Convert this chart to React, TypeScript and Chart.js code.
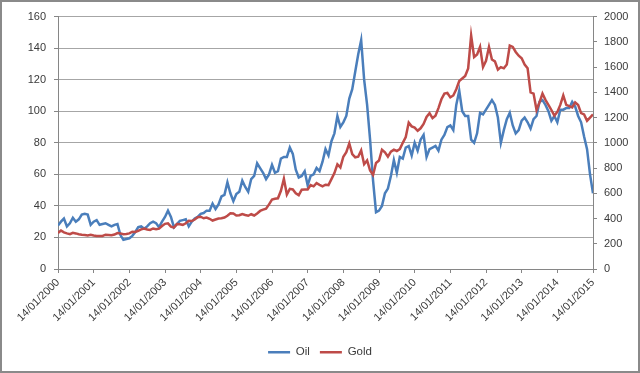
import React, { useEffect, useRef } from "react";
import { Chart, registerables } from "chart.js";

Chart.register(...registerables);

const yearLabels = [
  "14/01/2000", "14/01/2001", "14/01/2002", "14/01/2003", "14/01/2004",
  "14/01/2005", "14/01/2006", "14/01/2007", "14/01/2008", "14/01/2009",
  "14/01/2010", "14/01/2011", "14/01/2012", "14/01/2013", "14/01/2014",
  "14/01/2015",
];

// Monthly samples, Jan 2000 .. Jan 2015 (USD/bbl)
const oil = [
  27.5, 30, 32, 27, 29, 32.5, 30, 31.5, 34.5, 35, 34.5, 28,
  30, 31, 28, 28.5, 29, 28, 27, 28, 28.5, 21.5, 18.5, 19,
  19.5, 21, 23.5, 26.5, 27, 25.5, 27, 29, 30, 29, 26.5, 30,
  33, 37, 33, 26.5, 28.5, 30.5, 31, 31.5, 27, 30, 32, 33,
  35, 35.5, 37, 37, 41.5, 38, 41, 46, 47, 55, 48, 43,
  47.5, 49, 56, 52, 49, 57, 59, 67, 64, 61, 57, 60,
  66, 61, 62, 70, 71, 71, 77, 73, 63, 58, 59, 62,
  53, 59, 60, 64, 62, 68, 76, 72, 81, 86, 97, 90,
  93, 97, 108, 114, 125, 136, 145, 120, 104, 82, 56, 36,
  37, 40, 48, 51, 59, 69, 61, 71, 70, 77, 78, 72,
  80, 75, 82, 85, 71, 76, 77, 78, 75, 82, 85, 90,
  91, 88, 104, 113, 100, 97, 97, 82, 80, 86, 99, 98,
  101, 104, 107, 104, 96, 80, 88, 95, 99, 91, 86, 88,
  94, 96, 93, 89, 95, 97, 106, 107, 104, 100, 94, 97,
  93, 101, 101, 102, 102, 106, 103, 97, 93, 84, 76, 60,
  48,
];

// Monthly samples, Jan 2000 .. Jan 2015 (USD/oz)
const gold = [
  286, 305, 290, 282, 276, 287, 282, 276, 272, 270, 266, 272,
  266, 262, 262, 262, 272, 270, 268, 273, 285, 282, 276, 277,
  282, 295, 294, 303, 314, 321, 313, 310, 321, 316, 320, 340,
  358, 362, 336, 328, 356, 355, 350, 362, 382, 380, 392, 410,
  414, 402, 408, 398, 384, 392, 400, 402, 408, 422, 442, 440,
  424, 426, 436, 428, 422, 434, 424, 440, 460, 470, 478, 512,
  550, 556, 560, 620, 715, 590, 635, 630, 600, 585, 628, 630,
  630, 665, 655, 680, 667, 655, 668, 665, 712, 760, 830, 805,
  890, 925, 995, 910, 885, 890, 940, 830, 860, 780, 745, 840,
  860, 945, 925, 890, 930, 946, 935, 950, 1000, 1045, 1160, 1130,
  1120, 1095, 1115, 1150, 1205, 1235, 1195, 1215, 1275, 1345, 1390, 1395,
  1360, 1375, 1425, 1490, 1510, 1530, 1590, 1850, 1680, 1700, 1760, 1600,
  1650, 1760, 1660, 1645, 1580, 1600, 1590, 1620, 1770, 1760, 1720, 1690,
  1670, 1620, 1590, 1400, 1390, 1260, 1320, 1390, 1340, 1300, 1260, 1215,
  1245, 1300, 1375, 1300, 1290, 1280, 1320, 1300, 1235, 1225, 1175, 1200,
  1225,
];

const seriesNames = ["Oil", "Gold"];
const seriesColors = ["#4A7EBB", "#BE4B48"];

const FONT = "'Liberation Sans', Arial, sans-serif";
const TEXT = "#3a3a3a";
const AXIS = "#868686";
const GRID = "#a6a6a6";

export default function App() {
  const ref = useRef<HTMLCanvasElement | null>(null);

  useEffect(() => {
    document.body.style.margin = "0";
    const canvas = ref.current;
    if (!canvas) return;
    const toPts = (arr: number[]) => arr.map((v, i) => ({ x: i / 12, y: v }));

    const chart = new Chart(canvas, {
      type: "line",
      data: {
        datasets: [
          {
            label: seriesNames[0],
            data: toPts(oil),
            borderColor: seriesColors[0],
            backgroundColor: seriesColors[0],
            borderWidth: 2.5,
            pointRadius: 0,
            yAxisID: "y",
            order: 1,
          },
          {
            label: seriesNames[1],
            data: toPts(gold),
            borderColor: seriesColors[1],
            backgroundColor: seriesColors[1],
            borderWidth: 2.5,
            pointRadius: 0,
            yAxisID: "y1",
            order: 0,
          },
        ],
      },
      options: {
        responsive: false,
        animation: false,
        events: [],
        layout: { padding: { top: 13, left: 0, right: 0, bottom: 3 } },
        font: { family: FONT },
        scales: {
          x: {
            type: "linear",
            min: 0,
            max: 15,
            afterFit: (s: any) => {
              s.height = 67.5;
            },
            ticks: {
              stepSize: 1,
              autoSkip: false,
              minRotation: 45,
              maxRotation: 45,
              padding: 3,
              color: TEXT,
              font: { family: FONT, size: 11 },
              callback: (v: any) => yearLabels[Math.round(Number(v))] ?? "",
            },
            grid: {
              drawOnChartArea: false,
              drawTicks: true,
              tickLength: 4,
              color: AXIS,
            },
            border: { display: true, color: AXIS, width: 1 },
          },
          y: {
            position: "left",
            min: 0,
            max: 160,
            afterFit: (s: any) => {
              s.width = 56;
            },
            ticks: {
              stepSize: 20,
              padding: 8,
              color: TEXT,
              font: { family: FONT, size: 11 },
              callback: (v: any) => String(v),
            },
            grid: { color: GRID, tickLength: 4, tickColor: AXIS },
            border: { display: true, color: AXIS, width: 1 },
          },
          y1: {
            position: "right",
            min: 0,
            max: 2000,
            afterFit: (s: any) => {
              s.width = 45;
            },
            ticks: {
              stepSize: 200,
              padding: 7,
              color: TEXT,
              font: { family: FONT, size: 11 },
              callback: (v: any) => String(v),
            },
            grid: { drawOnChartArea: false, tickLength: 4, color: AXIS },
            border: { display: true, color: AXIS, width: 1 },
          },
        },
        plugins: {
          tooltip: { enabled: false },
          legend: {
            position: "bottom",
            labels: {
              usePointStyle: true,
              pointStyle: "line",
              pointStyleWidth: 22,
              padding: 10,
              color: TEXT,
              font: { family: FONT, size: 11.5 },
              sort: (a: any, b: any) => a.datasetIndex - b.datasetIndex,
            },
          },
        },
      } as any,
    });
    return () => chart.destroy();
  }, []);

  return (
    <div
      style={{
        width: 640,
        height: 373,
        boxSizing: "border-box",
        border: "2px solid #8a8a8a",
        background: "#fff",
        overflow: "hidden",
      }}
    >
      <canvas ref={ref} width={636} height={369} style={{ display: "block" }} />
    </div>
  );
}
